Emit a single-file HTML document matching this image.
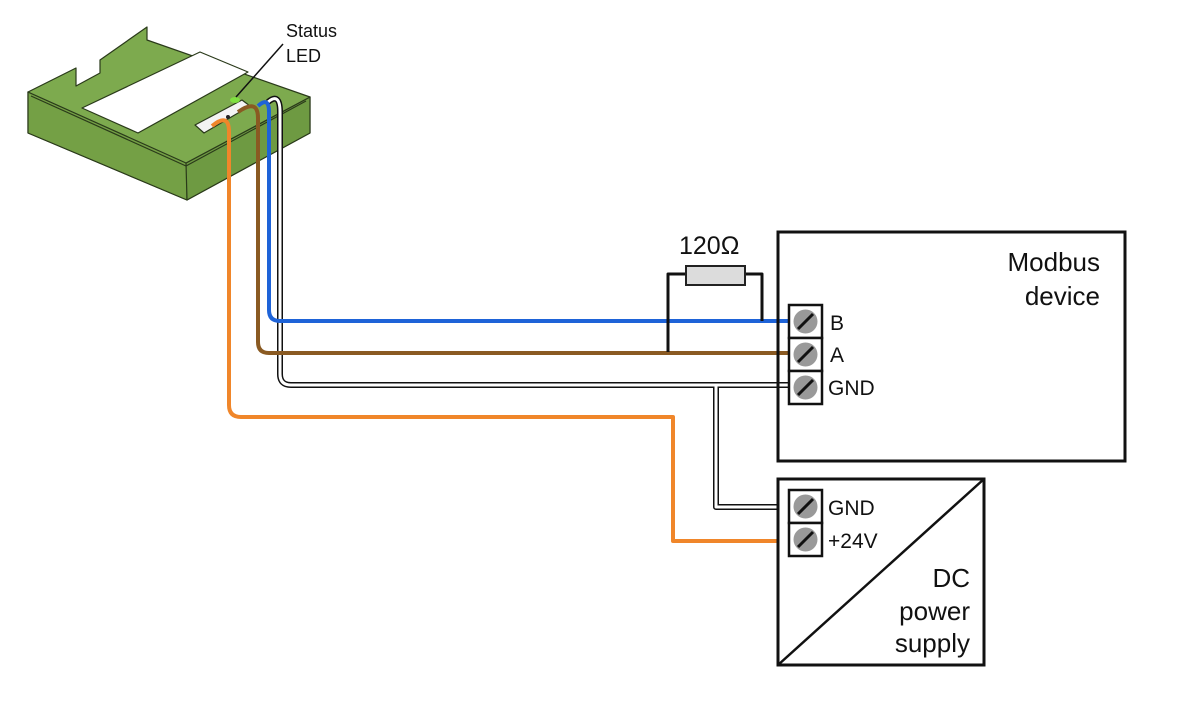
<!DOCTYPE html>
<html><head><style>body{margin:0;background:#fff}svg{display:block}text{font-family:"Liberation Sans",sans-serif;fill:#111}</style></head><body>
<svg width="1198" height="710" viewBox="0 0 1198 710">
<!-- device -->
<g stroke="#2a3a1a" stroke-width="1.2" stroke-linejoin="round">
<polygon points="28,92 186,163 310,97 310,133 187,200 28,133" fill="#78a64a"/>
<polygon points="28,92 28,133 187,200 187,163" fill="#74a045"/>
<polygon points="186,163 310,97 310,133 187,200" fill="#6e9a42"/>
<polygon points="28,92 76,68 76,86 100,73 100,60 147,27 147,40 310,97 186,163" fill="#7daa4e"/>
<polygon points="82,108 200,52 248,72 138,133" fill="#fff"/>
<polygon points="195,125 242,100 250,106 204,133" fill="#f3f3f3"/>
<polyline points="31,96 186,166 306,101" fill="none"/>
</g>
<ellipse cx="235" cy="100" rx="5" ry="3" fill="#7fe040"/>
<circle cx="228" cy="117" r="2" fill="#222"/>
<line x1="236" y1="97" x2="283" y2="44" stroke="#111" stroke-width="1.5"/>
<text x="286" y="37" font-size="18">Status</text>
<text x="286" y="62" font-size="18">LED</text>
<!-- wires -->
<g fill="none" stroke-linejoin="round">
<path d="M268,102 Q280,92 280,112 L280,374 Q280,385 291,385 L790,385" stroke="#111" stroke-width="6"/>
<path d="M716,385 L716,507 L790,507" stroke="#111" stroke-width="6"/>
<path d="M268,102 Q280,92 280,112 L280,374 Q280,385 291,385 L790,385" stroke="#fff" stroke-width="3"/>
<path d="M716,386 L716,507 L790,507" stroke="#fff" stroke-width="3"/>
<path d="M258,106 Q269,96 269,112 L269,310 Q269,321 280,321 L790,321" stroke="#1e63d8" stroke-width="4"/>
<path d="M238,112 Q258,98 258,118 L258,342 Q258,353 269,353 L790,353" stroke="#8a5a22" stroke-width="4"/>
<path d="M212,126 Q229,112 229,132 L229,405 Q229,417 241,417 L673,417 L673,541 L790,541" stroke="#f0862a" stroke-width="4"/>
<path d="M668,352 L668,274 L762,274 L762,321" stroke="#111" stroke-width="3"/>
</g>
<rect x="686" y="266" width="59" height="19" fill="#dcdcdc" stroke="#222" stroke-width="2"/>
<text x="679" y="254" font-size="25">120Ω</text>
<!-- modbus -->
<rect x="778" y="232" width="347" height="229" fill="none" stroke="#111" stroke-width="3"/>
<text x="1100" y="271" font-size="26" text-anchor="end">Modbus</text>
<text x="1100" y="305" font-size="26" text-anchor="end">device</text>
<!-- DC -->
<rect x="778" y="479" width="206" height="186" fill="#fff" stroke="#111" stroke-width="3"/>
<line x1="778" y1="665" x2="984" y2="479" stroke="#111" stroke-width="2.5"/>
<text x="970" y="587" font-size="26" text-anchor="end">DC</text>
<text x="970" y="620" font-size="26" text-anchor="end">power</text>
<text x="970" y="652" font-size="26" text-anchor="end">supply</text>
<!-- terminals -->
<g stroke="#111">
<g transform="translate(789,305)"><rect width="33" height="33" fill="#fff" stroke-width="2.5"/><circle cx="16.5" cy="16.5" r="12" fill="#999" stroke="none"/><line x1="9" y1="24" x2="24" y2="9" stroke-width="3"/></g>
<g transform="translate(789,338)"><rect width="33" height="33" fill="#fff" stroke-width="2.5"/><circle cx="16.5" cy="16.5" r="12" fill="#999" stroke="none"/><line x1="9" y1="24" x2="24" y2="9" stroke-width="3"/></g>
<g transform="translate(789,371)"><rect width="33" height="33" fill="#fff" stroke-width="2.5"/><circle cx="16.5" cy="16.5" r="12" fill="#999" stroke="none"/><line x1="9" y1="24" x2="24" y2="9" stroke-width="3"/></g>
<g transform="translate(789,490)"><rect width="33" height="33" fill="#fff" stroke-width="2.5"/><circle cx="16.5" cy="16.5" r="12" fill="#999" stroke="none"/><line x1="9" y1="24" x2="24" y2="9" stroke-width="3"/></g>
<g transform="translate(789,523)"><rect width="33" height="33" fill="#fff" stroke-width="2.5"/><circle cx="16.5" cy="16.5" r="12" fill="#999" stroke="none"/><line x1="9" y1="24" x2="24" y2="9" stroke-width="3"/></g>
</g>
<g font-size="21">
<text x="830" y="330">B</text>
<text x="830" y="362">A</text>
<text x="828" y="395">GND</text>
<text x="828" y="515">GND</text>
<text x="828" y="548">+24V</text>
</g>
</svg>
</body></html>
